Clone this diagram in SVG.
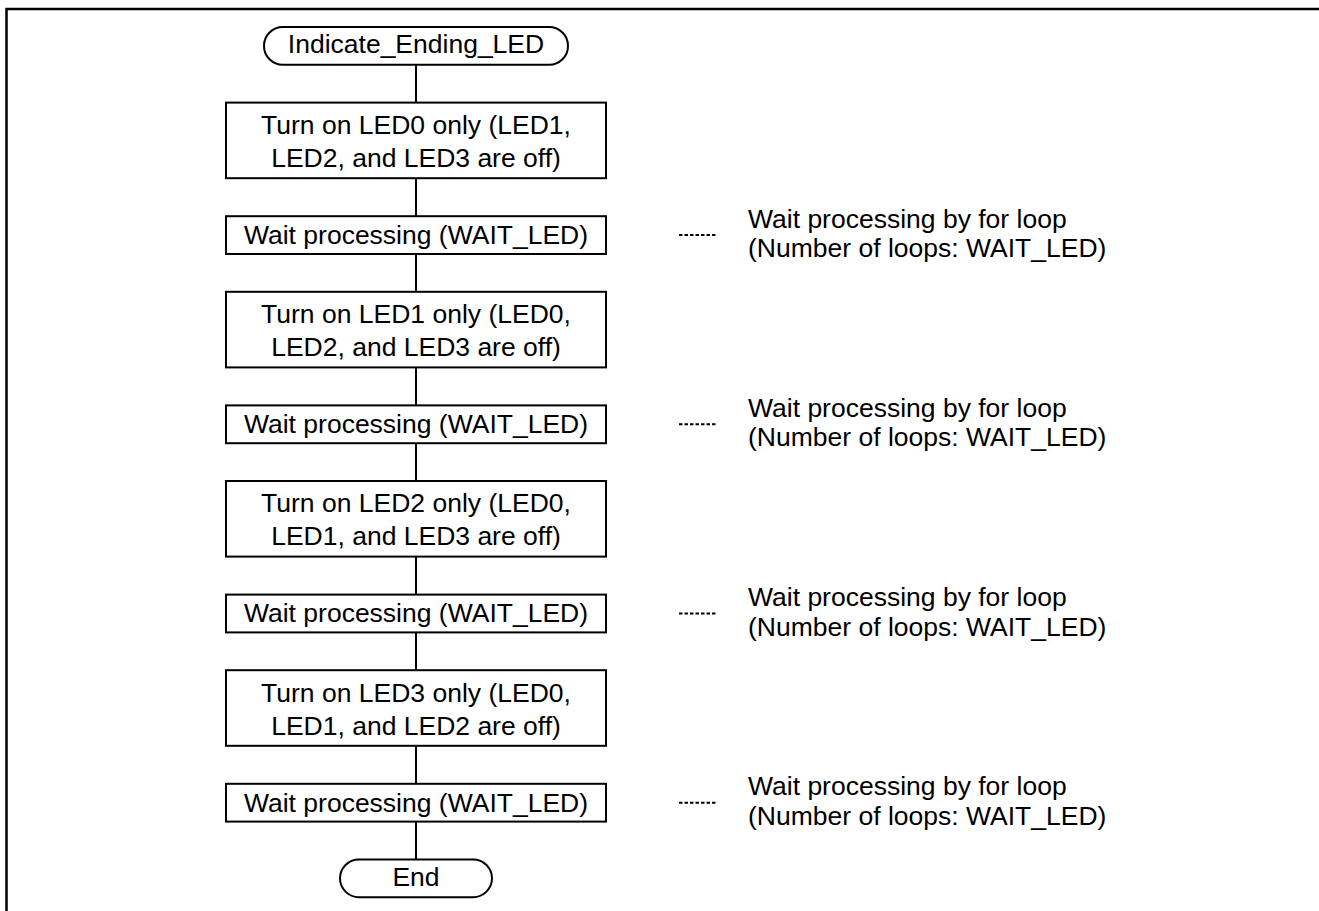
<svg xmlns="http://www.w3.org/2000/svg" width="1319" height="911" viewBox="0 0 1319 911">
  <style>
    .shape { fill: #ffffff; stroke: #000000; stroke-width: 2; }
    .link { fill: none; stroke: #000000; stroke-width: 2; }
    .dots { fill: none; stroke: #000000; stroke-width: 2; stroke-dasharray: 3.5 2; }
    .frame { fill: none; stroke: #000000; stroke-width: 2.5; }
    text { font-family: "Liberation Sans", Arial, sans-serif; font-size: 26.5px; fill: #000000; }
    .c { text-anchor: middle; }
  </style>

  <!-- page frame (continues past the right and bottom edges) -->
  <path class="frame" d="M6.5,911 V9 H1319"/>

  <!-- connectors along the main flow -->
  <g id="connectors">
    <line class="link" x1="416" y1="64.8" x2="416" y2="102.6"/>
    <line class="link" x1="416" y1="178.2" x2="416" y2="216.2"/>
    <line class="link" x1="416" y1="254" x2="416" y2="291.8"/>
    <line class="link" x1="416" y1="367.4" x2="416" y2="405.4"/>
    <line class="link" x1="416" y1="443.2" x2="416" y2="481"/>
    <line class="link" x1="416" y1="556.6" x2="416" y2="594.6"/>
    <line class="link" x1="416" y1="632.4" x2="416" y2="670.2"/>
    <line class="link" x1="416" y1="745.8" x2="416" y2="783.8"/>
    <line class="link" x1="416" y1="821.6" x2="416" y2="859.4"/>
  </g>

  <g id="start">
    <rect class="shape" x="264" y="27" width="304" height="37.8" rx="18.9" ry="18.9"/>
    <text class="c" x="416" y="53.4">Indicate_Ending_LED</text>
  </g>

  <g id="led0-on">
    <rect class="shape" x="226" y="102.6" width="380" height="75.6"/>
    <text class="c" x="416" y="134">Turn on LED0 only (LED1,</text>
    <text class="c" x="416" y="167">LED2, and LED3 are off)</text>
  </g>

  <g id="wait-1">
    <rect class="shape" x="226" y="216.2" width="380" height="37.8"/>
    <text class="c" x="416" y="244">Wait processing (WAIT_LED)</text>
  </g>

  <g id="led1-on">
    <rect class="shape" x="226" y="291.8" width="380" height="75.6"/>
    <text class="c" x="416" y="323.2">Turn on LED1 only (LED0,</text>
    <text class="c" x="416" y="356.2">LED2, and LED3 are off)</text>
  </g>

  <g id="wait-2">
    <rect class="shape" x="226" y="405.4" width="380" height="37.8"/>
    <text class="c" x="416" y="433.2">Wait processing (WAIT_LED)</text>
  </g>

  <g id="led2-on">
    <rect class="shape" x="226" y="481" width="380" height="75.6"/>
    <text class="c" x="416" y="512.4">Turn on LED2 only (LED0,</text>
    <text class="c" x="416" y="545.4">LED1, and LED3 are off)</text>
  </g>

  <g id="wait-3">
    <rect class="shape" x="226" y="594.6" width="380" height="37.8"/>
    <text class="c" x="416" y="622.4">Wait processing (WAIT_LED)</text>
  </g>

  <g id="led3-on">
    <rect class="shape" x="226" y="670.2" width="380" height="75.6"/>
    <text class="c" x="416" y="701.6">Turn on LED3 only (LED0,</text>
    <text class="c" x="416" y="734.6">LED1, and LED2 are off)</text>
  </g>

  <g id="wait-4">
    <rect class="shape" x="226" y="783.8" width="380" height="37.8"/>
    <text class="c" x="416" y="811.6">Wait processing (WAIT_LED)</text>
  </g>

  <g id="end">
    <rect class="shape" x="340" y="859.4" width="152" height="37.8" rx="18.9" ry="18.9"/>
    <text class="c" x="416" y="885.8">End</text>
  </g>

  <!-- side notes for the wait steps -->
  <g id="note-1">
    <line class="dots" x1="679" y1="235.1" x2="717" y2="235.1"/>
    <text x="748" y="227.6">Wait processing by for loop</text>
    <text x="748" y="257.2">(Number of loops: WAIT_LED)</text>
  </g>
  <g id="note-2">
    <line class="dots" x1="679" y1="424.3" x2="717" y2="424.3"/>
    <text x="748" y="416.8">Wait processing by for loop</text>
    <text x="748" y="446.4">(Number of loops: WAIT_LED)</text>
  </g>
  <g id="note-3">
    <line class="dots" x1="679" y1="613.5" x2="717" y2="613.5"/>
    <text x="748" y="606">Wait processing by for loop</text>
    <text x="748" y="635.6">(Number of loops: WAIT_LED)</text>
  </g>
  <g id="note-4">
    <line class="dots" x1="679" y1="802.7" x2="717" y2="802.7"/>
    <text x="748" y="795.2">Wait processing by for loop</text>
    <text x="748" y="824.8">(Number of loops: WAIT_LED)</text>
  </g>
</svg>
